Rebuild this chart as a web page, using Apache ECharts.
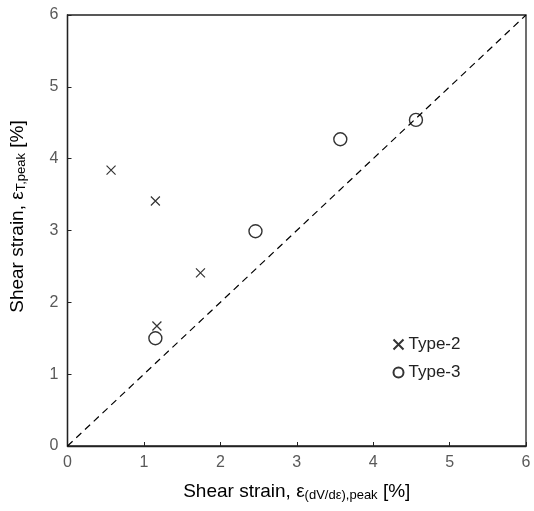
<!DOCTYPE html>
<html>
<head>
<meta charset="utf-8">
<script src="https://cdn.jsdelivr.net/npm/echarts@6/dist/echarts.min.js"></script>
<style>
  html, body { margin: 0; padding: 0; background: #fff; }
  #main { width: 534px; height: 511px; }
</style>
</head>
<body>
<div id="main"></div>
<script>
// data
var type2X = [0.57, 1.15, 1.74, 1.17];
var type2Y = [3.84, 3.41, 2.41, 1.67];
var type3X = [1.15, 2.46, 3.57, 4.56];
var type3Y = [1.50, 2.99, 4.27, 4.54];
var lineX = [0, 6];
var lineY = [0, 6];
var ticks = [0, 1, 2, 3, 4, 5, 6];

function pairs(xs, ys) {
    var out = [];
    for (var i = 0; i < xs.length; i++) out.push([xs[i], ys[i]]);
    return out;
}

window.onload = function () {
    var myChart = echarts.init(document.getElementById('main'));
    var font = 'Liberation Sans, Arial, sans-serif';
    var cross = 'path://M0,0L10,10M10,0L0,10';

    var axisCommon = {
        min: ticks[0],
        max: ticks[ticks.length - 1],
        interval: 1,
        splitLine: { show: false },
        axisLine: { show: true, lineStyle: { color: '#222', width: 1.3 } },
        axisTick: { show: true, inside: true, length: 4, lineStyle: { color: '#222' } },
        axisLabel: { color: '#595959', fontSize: 16, fontFamily: font, margin: 9 },
        nameLocation: 'middle'
    };

    function nameStyle(pad) {
        return {
            color: '#000', fontSize: 19, fontFamily: font, padding: pad,
            rich: {
                sub: { fontSize: 13, fontFamily: font, color: '#000', verticalAlign: 'bottom', padding: [7, 0, 0, 0] }
            }
        };
    }

    var option = {
        animation: false,
        grid: {
            left: 65, right: 8, top: 15, bottom: 65,
            show: true, borderColor: '#222', borderWidth: 1.3
        },
        // 图例
        legend: {
            orient: 'vertical',
            left: 386, top: 331,
            itemGap: 11,
            itemWidth: 10, itemHeight: 10,
            textStyle: { fontSize: 17, fontFamily: font, color: '#222' },
            data: ['Type-2', 'Type-3']
        },
        xAxis: Object.assign({}, axisCommon, {
            type: 'value',
            name: 'Shear strain, ε{sub|(dV/dε),peak} [%]',
            nameGap: 36,
            nameTextStyle: nameStyle(0)
        }),
        yAxis: Object.assign({}, axisCommon, {
            type: 'value',
            name: 'Shear strain, ε{sub|T,peak} [%]',
            nameGap: 40,
            nameTextStyle: nameStyle([0, 0, 0, 28])
        }),
        series: [
            {
                name: '1:1',
                type: 'line',
                data: pairs(lineX, lineY),
                symbol: 'none',
                silent: true,
                lineStyle: { color: '#000', width: 1.2, type: [7, 5] }
            },
            {
                name: 'Type-2',
                type: 'scatter',
                data: pairs(type2X, type2Y),
                symbol: cross,
                symbolSize: 9,
                itemStyle: { color: 'none', borderColor: '#000', borderWidth: 1.2 }
            },
            {
                name: 'Type-3',
                type: 'scatter',
                data: pairs(type3X, type3Y),
                symbol: 'circle',
                symbolSize: 13,
                itemStyle: { color: 'rgba(255,255,255,0)', borderColor: '#000', borderWidth: 1.4 }
            }
        ]
    };

    myChart.setOption(option);
};
</script>
</body>
</html>
